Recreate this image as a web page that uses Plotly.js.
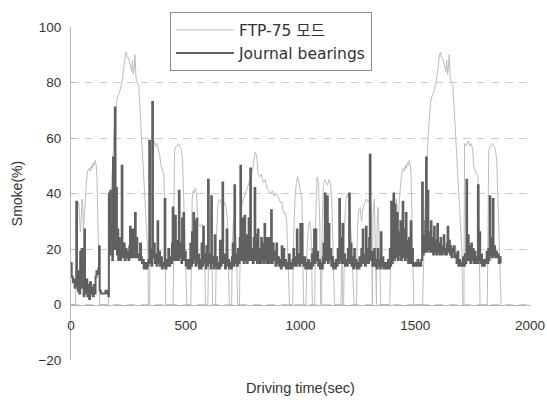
<!DOCTYPE html>
<html><head><meta charset="utf-8">
<script src="https://cdn.plot.ly/plotly-3.0.1.min.js"></script>
<style>html,body{margin:0;padding:0;background:#fff}#chart{width:547px;height:400px}</style>
</head><body><div id="chart"></div>
<script>
const seriesNames = ["FTP-75 모드", "Journal bearings"];
const xTickVals = [0, 500, 1000, 1500, 2000];
const yTickVals = [-20, 0, 20, 40, 60, 80, 100];
const xTitle = "Driving time(sec)";
const yTitle = "Smoke(%)";

// FTP-75 mode trace [time s, value]
const ftpPhase1 = [[0,0],[20,0],[22,10],[25,25],[28,33],[31,37],[35,36],[38,30],[41,26],[45,32],[48,38],[51,36],[54,27],[57,30],[60,38],[64,40],[68,45],[72,48],[78,49],[84,48],[88,50],[92,49],[96,51],[100,50],[105,52],[110,50],[113,46],[117,30],[121,15],[125,0],[163,0],[166,12],[170,25],[174,36],[178,45],[183,55],[188,62],[193,68],[198,73],[204,75],[210,76],[216,78],[222,80],[228,84],[233,88],[237,90],[241,91],[245,89],[250,89],[255,87],[260,86],[265,84],[268,88],[272,83],[276,86],[279,90],[283,82],[288,80],[295,79],[300,72],[306,62],[312,55],[317,48],[322,40],[328,30],[334,20],[338,0],[343,0],[346,58],[350,57],[356,58],[362,59],[368,57],[374,58],[380,56],[386,54],[392,50],[398,48],[404,47],[408,38],[411,20],[413,0],[445,0],[448,35],[451,55],[456,57],[462,57],[468,58],[474,57],[480,56],[486,52],[491,38],[496,20],[500,5],[505,0]];
const ftpPhase2 = [[522,0],[525,25],[528,38],[532,41],[537,40],[542,42],[547,40],[551,33],[555,29],[562,28],[569,29],[576,28],[582,22],[586,0],[596,0],[600,18],[605,28],[610,33],[614,20],[617,0],[630,0],[634,25],[640,36],[646,38],[652,37],[660,36],[668,37],[676,35],[682,30],[686,15],[690,0],[700,0],[703,22],[708,30],[714,28],[720,22],[726,0],[734,0],[738,25],[744,36],[752,38],[760,40],[768,42],[776,44],[784,46],[792,49],[798,52],[803,55],[807,54],[811,52],[815,47],[822,46],[830,47],[838,44],[846,45],[854,42],[862,41],[870,40],[878,41],[886,39],[894,40],[902,39],[910,37],[918,37],[926,33],[934,33],[940,30],[946,15],[952,0],[966,0],[970,25],[976,38],[982,44],[988,46],[994,43],[1000,41],[1006,38],[1010,15],[1014,0],[1024,0],[1028,18],[1034,28],[1040,30],[1046,26],[1052,0],[1062,0],[1066,30],[1072,46],[1078,44],[1084,30],[1088,0],[1092,0],[1095,30],[1100,44],[1106,45],[1112,44],[1118,43],[1124,45],[1130,44],[1136,38],[1142,20],[1148,0],[1176,0],[1180,20],[1184,0],[1188,0],[1192,28],[1198,38],[1204,40],[1210,38],[1216,30],[1222,24],[1228,10],[1234,0],[1244,0],[1248,28],[1254,34],[1260,35],[1266,30],[1270,34],[1278,36],[1286,38],[1294,37],[1302,38],[1308,36],[1311,0],[1313,0],[1316,32],[1322,38],[1326,20],[1328,0],[1331,0],[1334,30],[1338,35],[1342,25],[1346,10],[1350,0],[1389,0]];
const ftpPhase3 = [[1391,10],[1394,25],[1397,33],[1400,37],[1404,36],[1407,30],[1410,26],[1414,32],[1417,38],[1420,36],[1423,28],[1426,31],[1429,38],[1433,40],[1437,44],[1441,47],[1447,49],[1453,48],[1457,50],[1461,49],[1465,51],[1469,50],[1474,52],[1479,50],[1482,46],[1486,30],[1490,15],[1494,0],[1532,0],[1535,12],[1539,25],[1543,36],[1547,45],[1552,55],[1557,62],[1562,68],[1567,73],[1573,75],[1579,76],[1585,78],[1591,80],[1597,84],[1602,88],[1606,90],[1610,91],[1614,89],[1619,89],[1624,87],[1629,86],[1634,84],[1637,88],[1641,83],[1645,86],[1648,90],[1652,82],[1657,80],[1664,79],[1669,72],[1675,62],[1681,55],[1686,48],[1691,40],[1697,30],[1703,20],[1707,0],[1712,0],[1715,58],[1720,57],[1726,58],[1732,59],[1738,57],[1744,58],[1750,56],[1755,50],[1762,48],[1768,47],[1773,46],[1777,38],[1780,20],[1782,0],[1814,0],[1817,35],[1820,55],[1825,57],[1831,57],[1837,58],[1843,57],[1849,56],[1855,52],[1860,38],[1865,20],[1870,5],[1874,0]];

// Journal bearings smoke trace [time s, value]
const smokePhase1 = [[0,15],[3,10],[8,8],[12,9],[16,6],[20,8],[23,37],[26,7],[30,5],[33,12],[36,4],[40,19],[43,8],[46,20],[49,6],[52,9],[55,3],[58,27],[61,6],[64,4],[68,9],[71,3],[75,7],[79,2],[83,8],[87,4],[91,6],[95,3],[99,7],[103,4],[107,10],[111,12],[115,11],[119,13],[122,21],[125,5],[130,4],[140,4],[150,5],[158,4],[163,3],[165,40],[168,18],[171,41],[174,22],[177,30],[180,16],[183,53],[186,20],[189,25],[191,71],[194,20],[197,42],[200,18],[203,27],[206,16],[209,24],[212,18],[215,16],[218,20],[221,50],[224,18],[227,17],[230,22],[234,16],[238,20],[242,17],[246,19],[250,16],[254,21],[257,28],[260,17],[264,19],[268,27],[271,17],[275,19],[279,33],[282,17],[285,24],[289,17],[293,18],[297,16],[301,22],[305,17],[309,15],[313,16],[317,13],[321,14],[325,15],[329,13],[333,14],[337,16]];
const smokePhase2 = [[341,59],[344,15],[347,20],[351,14],[354,73],[357,17],[361,22],[365,15],[369,18],[373,14],[377,30],[380,15],[384,19],[388,14],[392,17],[396,13],[400,15],[404,14],[408,38],[411,13],[416,16],[420,14],[424,20],[428,14],[432,17],[436,15],[440,22],[443,35],[446,16],[450,20],[454,32],[457,16],[462,23],[466,16],[470,41],[473,17],[477,22],[481,15],[484,31],[487,16],[490,33],[493,16],[496,19],[500,14],[504,16],[508,13],[512,16],[516,13],[520,22],[524,14],[527,26],[530,15],[533,33],[536,16],[540,30],[543,14],[547,31],[550,15],[554,18],[558,13],[562,16],[566,13],[569,22],[572,14],[576,28],[579,15],[583,18],[587,13],[590,21],[593,14],[597,45],[600,15],[604,18],[608,13],[611,39],[614,15],[618,17],[622,13],[626,25],[629,14],[633,17],[637,13],[641,15],[645,13],[649,23],[652,14],[656,17],[660,44],[663,15],[667,18],[671,13],[675,16],[678,27],[681,14],[685,16],[689,13],[693,15],[697,13],[701,17],[705,22],[708,14],[712,43],[715,15],[719,18],[723,14],[727,20],[731,15],[735,24],[738,50],[741,16],[745,20],[749,31],[752,15],[756,32],[759,16],[763,25],[766,15],[770,18],[774,31],[777,16],[781,49],[784,16],[788,20],[792,15],[796,24],[800,42],[803,16],[807,25],[810,15],[814,27],[817,15],[821,20],[825,15],[829,24],[832,16],[836,22],[839,15],[843,29],[846,16],[850,24],[853,15],[857,20],[861,24],[864,15],[868,18],[872,34],[875,15],[879,22],[883,16],[887,19],[891,14],[895,22],[898,15],[902,17],[906,14],[910,16],[914,13],[918,21],[921,14],[925,20],[929,14],[933,16],[937,13],[941,15],[945,13],[949,18],[953,13],[957,15],[961,13],[965,16],[969,20],[972,14],[976,17],[980,14],[984,27],[987,15],[991,18],[995,14],[999,29],[1002,15],[1006,29],[1009,16]];
const smokePhase3 = [[1013,14],[1017,17],[1021,13],[1025,15],[1029,13],[1033,16],[1037,13],[1041,15],[1045,13],[1049,18],[1052,14],[1056,20],[1059,27],[1062,15],[1066,27],[1069,16],[1073,19],[1077,14],[1081,16],[1085,13],[1089,15],[1093,13],[1097,17],[1100,22],[1103,15],[1106,40],[1109,16],[1113,24],[1116,39],[1119,15],[1123,29],[1126,16],[1130,20],[1134,14],[1138,17],[1142,13],[1146,15],[1150,13],[1154,16],[1158,14],[1162,20],[1165,15],[1169,38],[1172,16],[1176,24],[1179,15],[1183,29],[1186,15],[1190,18],[1194,14],[1198,16],[1202,14],[1206,20],[1209,16],[1212,40],[1215,15],[1219,22],[1222,14],[1226,17],[1230,13],[1234,20],[1237,14],[1241,16],[1245,13],[1249,15],[1253,13],[1257,17],[1261,14],[1265,20],[1268,15],[1271,27],[1274,15],[1278,18],[1281,14],[1285,28],[1288,15],[1292,20],[1295,15],[1299,24],[1302,54],[1305,16],[1309,19],[1313,14],[1317,18],[1321,20],[1324,14],[1328,16],[1332,13],[1336,20],[1339,14],[1343,16],[1347,13],[1350,26],[1353,14],[1357,17],[1361,13],[1365,15],[1369,13]];
const smokePhase4 = [[1373,15],[1377,13],[1381,16],[1385,13],[1389,20],[1392,14],[1395,37],[1398,15],[1402,24],[1405,40],[1408,16],[1411,36],[1414,17],[1418,22],[1421,33],[1424,16],[1428,26],[1431,18],[1435,30],[1438,16],[1442,25],[1445,37],[1448,17],[1452,27],[1455,16],[1459,33],[1462,17],[1466,23],[1469,15],[1473,24],[1476,15],[1480,30],[1483,15],[1487,20],[1490,14],[1494,15],[1498,14],[1502,15],[1506,14],[1510,16],[1514,14],[1518,15],[1522,14],[1526,16],[1530,44],[1533,18],[1537,25],[1540,19],[1544,30],[1547,53],[1550,19],[1554,41],[1557,20],[1561,26],[1564,19],[1568,30],[1571,19],[1575,24],[1578,18],[1582,28],[1585,19],[1589,23],[1592,18],[1596,29],[1599,19],[1603,22],[1606,18],[1610,24],[1613,18],[1617,21],[1620,19],[1624,25],[1627,18],[1631,20],[1634,18],[1638,22],[1641,28],[1644,19],[1648,23],[1651,18],[1655,21],[1658,17],[1662,20],[1665,19],[1669,21],[1672,17],[1676,18],[1680,15],[1684,19],[1688,14],[1692,16],[1696,14],[1700,15],[1704,14],[1708,17],[1712,14],[1716,18],[1720,15],[1723,45],[1726,16],[1730,25],[1733,16],[1737,21],[1740,15],[1744,22],[1747,16],[1751,20],[1755,15],[1758,19],[1762,15],[1766,17],[1770,15],[1773,43],[1776,16],[1780,26],[1783,15],[1787,18],[1791,14],[1795,16],[1799,14],[1803,16],[1807,15],[1811,19],[1814,15],[1818,20],[1821,16],[1824,39],[1827,18],[1831,24],[1834,17],[1838,38],[1841,18],[1845,21],[1848,17],[1852,19],[1856,17],[1860,18],[1864,15],[1868,17],[1872,15]];

const ftp = ftpPhase1.concat(ftpPhase2, ftpPhase3);
const smoke = smokePhase1.concat(smokePhase2, smokePhase3, smokePhase4);

const fontFamily = "Liberation Sans, Arial, Noto Sans CJK KR, sans-serif";

const traces = [
  {x: ftp.map(p => p[0]), y: ftp.map(p => p[1]), type: 'scatter', mode: 'lines',
   name: seriesNames[0], legendgroup: 'a', line: {color: '#bdbdbd', width: 1}},
  {x: smoke.map(p => p[0]), y: smoke.map(p => p[1]), type: 'scatter', mode: 'lines',
   name: seriesNames[1], legendgroup: 'b', line: {color: '#606060', width: 2, shape: 'hv'}}
];

const layout = {
  width: 547, height: 400,
  margin: {l: 71, r: 17, t: 22, b: 40},
  paper_bgcolor: '#fff', plot_bgcolor: '#fff',
  font: {family: fontFamily, size: 13.5, color: '#333'},
  showlegend: true,
  legend: {x: 0.2157, y: 1.044, xanchor: 'left', yanchor: 'top', bgcolor: '#fff',
           bordercolor: '#8c8c8c', borderwidth: 1,
           font: {family: "DejaVu Sans, Noto Sans CJK KR, sans-serif", size: 15.5, color: '#333'},
           traceorder: 'grouped', tracegroupgap: 0, itemwidth: 58},
  xaxis: {range: [0, 2000], tickvals: xTickVals, anchor: 'free', position: 20/120,
          showline: true, linecolor: '#b4b4b4', linewidth: 1, showgrid: false, zeroline: false,
          ticks: '', ticklabelstandoff: 8, automargin: false,
          title: {text: xTitle, font: {size: 14.5}, standoff: 51}},
  yaxis: {range: [-20, 100], tickvals: yTickVals, showline: true, linecolor: '#b4b4b4', linewidth: 1,
          ticks: 'inside', ticklen: 4, tickcolor: '#b4b4b4', zeroline: false,
          showgrid: true, gridcolor: '#cdcdcd', griddash: '8px,6px', gridwidth: 1,
          ticklabelstandoff: 6, automargin: false,
          title: {text: yTitle, font: {size: 14}, standoff: 12}}
};

Plotly.newPlot('chart', traces, layout, {displayModeBar: false, staticPlot: true});
</script>
</body></html>
